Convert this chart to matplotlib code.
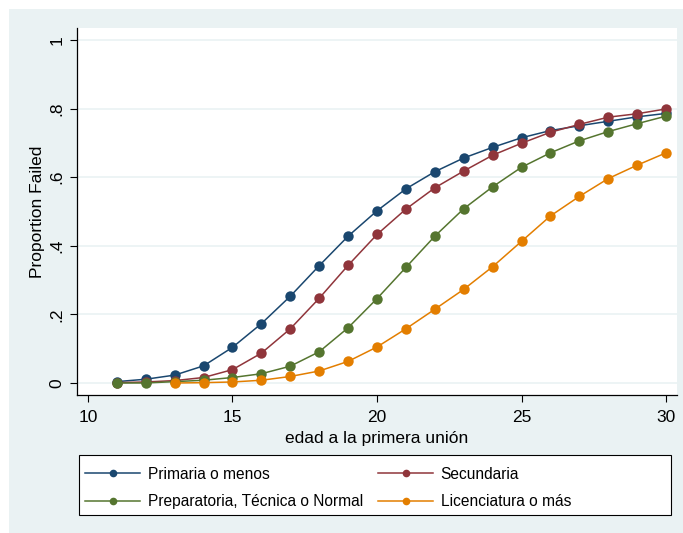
import matplotlib
matplotlib.use("Agg")
import matplotlib.pyplot as plt
from matplotlib.patches import Rectangle
from matplotlib.lines import Line2D

plt.rcParams['font.family'] = ['Liberation Sans', 'DejaVu Sans']

# age at first union
edad = list(range(11, 31))
edad_lic = list(range(13, 31))

primaria = [0.004, 0.011, 0.023, 0.050, 0.104, 0.173, 0.253, 0.342, 0.428, 0.502,
            0.566, 0.616, 0.656, 0.687, 0.715, 0.736, 0.750, 0.763, 0.776, 0.786]
secundaria = [0.001, 0.003, 0.007, 0.016, 0.039, 0.087, 0.158, 0.247, 0.343, 0.433,
              0.507, 0.569, 0.618, 0.664, 0.699, 0.731, 0.754, 0.775, 0.785, 0.799]
preparatoria = [0.000, 0.000, 0.004, 0.008, 0.016, 0.027, 0.049, 0.091, 0.161, 0.246,
                0.337, 0.428, 0.508, 0.572, 0.629, 0.671, 0.706, 0.733, 0.756, 0.778]
licenciatura = [0.000, 0.001, 0.003, 0.008, 0.019, 0.035, 0.063, 0.105,
                0.158, 0.215, 0.273, 0.339, 0.413, 0.487, 0.544, 0.596, 0.635, 0.671]

labels = ["Primaria o menos", "Secundaria",
          "Preparatoria, Técnica o Normal", "Licenciatura o más"]
colors = ["#1a476f", "#90353b", "#55752f", "#e37e00"]

xticks = [10, 15, 20, 25, 30]
yticks = [0, 0.2, 0.4, 0.6, 0.8, 1]
yticklabels = ["0", ".2", ".4", ".6", ".8", "1"]

W, H = 683, 533
fig = plt.figure(figsize=(W / 100, H / 100), dpi=100)
fig.patch.set_facecolor("white")
fig.patches.append(Rectangle((9 / W, 0), 1 - 9 / W, 1 - 9 / H, transform=fig.transFigure,
                             facecolor="#eaf2f3", edgecolor="none", zorder=-10))

ax = fig.add_axes([77 / W, 1 - 395 / H, 600 / W, 367 / H])
ax.set_facecolor("white")

series = [(edad, primaria), (edad, secundaria), (edad, preparatoria), (edad_lic, licenciatura)]
for (xs, ys), lab, c in zip(series, labels, colors):
    ax.plot(xs, ys, color=c, lw=1.1, marker="o", markersize=7.5,
            markeredgewidth=0, label=lab, zorder=3)

ax.set_xlim(9.62, 30.38)
ax.set_ylim(-0.035, 1.035)
ax.set_xticks(xticks)
ax.set_yticks(yticks)
ax.set_yticklabels(yticklabels, rotation=90, va="center")
ax.grid(axis="y", color="#eaf2f3", lw=1.2, zorder=0)
ax.set_axisbelow(True)
for s in ["top", "right"]:
    ax.spines[s].set_visible(False)
for s in ["left", "bottom"]:
    ax.spines[s].set_color("black")
    ax.spines[s].set_linewidth(0.9)
ax.tick_params(axis="both", length=5, width=0.8, labelsize=12.5, colors="black")
ax.tick_params(axis="x", pad=6)
ax.tick_params(axis="y", pad=4)

ax.set_xlabel("edad a la primera unión", fontsize=12.5, labelpad=4)
ax.set_ylabel("Proportion Failed", fontsize=12.5, labelpad=3.5)

# legend box (Stata style): frame drawn separately, entries filled row-wise
fig.patches.append(Rectangle((79 / W, 1 - 515 / H), 592 / W, 60 / H, transform=fig.transFigure,
                             facecolor="white", edgecolor="black", lw=0.8, zorder=1))
order = [0, 2, 1, 3]
leg_handles = [Line2D([], [], color=colors[i], lw=1.1, marker="o", markersize=5.5,
                      markeredgewidth=0) for i in order]
leg = fig.legend(leg_handles, [labels[i] for i in order], ncol=2,
                 bbox_to_anchor=(73.8 / W, 1 - 455 / H), loc="upper left",
                 borderaxespad=0, frameon=False, fontsize=11.2,
                 handlelength=3.5, handletextpad=0.5, columnspacing=1.0,
                 labelspacing=0.8, borderpad=0.75)

fig.savefig("out.png", dpi=100)
